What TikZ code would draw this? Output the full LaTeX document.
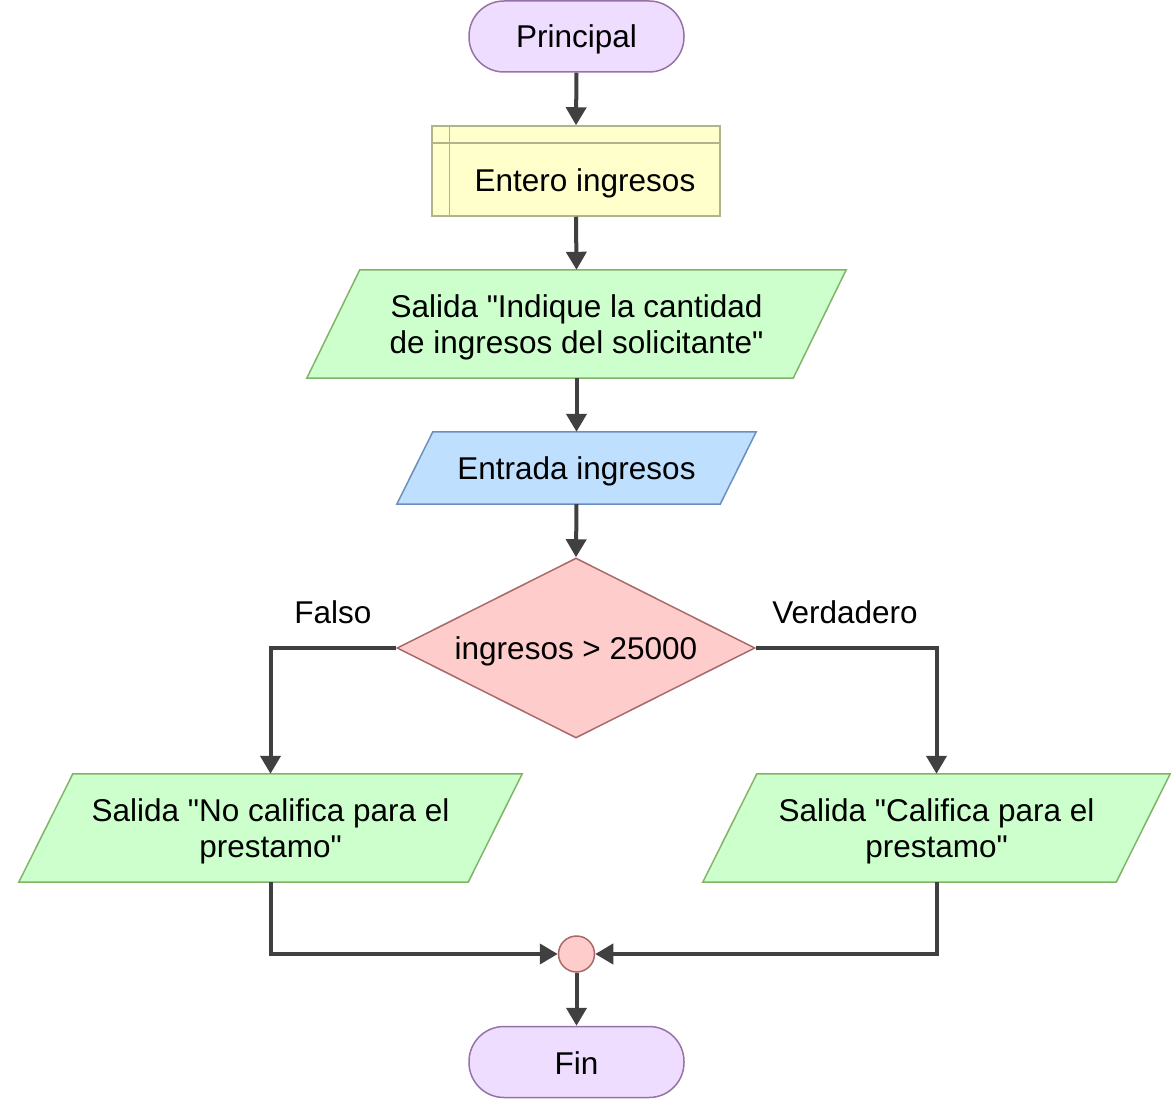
\documentclass[tikz,border=0pt]{standalone}
\usepackage{fontspec}
\setmainfont{Liberation Sans}[Ligatures=TeXOff]
\usetikzlibrary{arrows.meta,calc,shapes.geometric}
\definecolor{termfill}{HTML}{EEDDFF}
\definecolor{termdraw}{HTML}{9673A6}
\definecolor{declfill}{HTML}{FFFFCC}
\definecolor{decldraw}{HTML}{B3B38A}
\definecolor{outfill}{HTML}{CCFFCC}
\definecolor{outdraw}{HTML}{82B366}
\definecolor{infill}{HTML}{BFDFFF}
\definecolor{indraw}{HTML}{6C8EBF}
\definecolor{decfill}{HTML}{FFCCCC}
\definecolor{decdraw}{HTML}{A86A68}
\definecolor{arrowcol}{HTML}{404040}
\begin{document}
\begin{tikzpicture}[x=1pt,y=-1pt,
  every node/.style={font=\fontsize{31.5}{36}\selectfont, inner sep=0pt, align=center},
  terminal/.style={rounded corners=35pt, draw=termdraw, fill=termfill, line width=1.5pt, minimum width=215pt, minimum height=71pt},
  txtbox/.style={draw=none, fill=none},
  txt/.style={yshift=-3pt},
  outshape/.style={draw=outdraw, fill=outfill, line width=1.5pt},
  inshape/.style={draw=indraw, fill=infill, line width=1.5pt},
  conn/.style={draw=arrowcol, line width=4pt, -{Triangle[length=18pt,width=20pt]}},
  label/.style={font=\fontsize{31.5}{36}\selectfont}
]
\useasboundingbox (0,0) rectangle (1171,1099);

% Principal
\node[terminal] (ini) at (576.5,36.5) {};
\node[txt] (iniT) at (ini) {Principal};

% Entero ingresos (declaration box)
\node[draw=decldraw, fill=declfill, line width=1.5pt, minimum width=288pt, minimum height=90pt] (dec) at (576,171) {};
\draw[decldraw, line width=1.5pt] ($(dec.north west)+(18,0)$) -- ($(dec.south west)+(18,0)$);
\draw[decldraw, line width=1.5pt] ($(dec.north west)+(0,18)$) -- ($(dec.north east)+(0,18)$);
\node[txt] (decT) at (585,180) {Entero ingresos};

% Salida 1
\node[txtbox, minimum width=486pt, minimum height=108pt] (out1) at (576.5,324) {};
\path[outshape] ($(out1.north west)+(26.5,0)$) -- ($(out1.north east)+(26.5,0)$) -- ($(out1.south east)+(-26.5,0)$) -- ($(out1.south west)+(-26.5,0)$) -- cycle;
\node[txt] (out1T) at (out1) {Salida "Indique la cantidad\\ de ingresos del solicitante"};

% Entrada
\node[txtbox, minimum width=323pt, minimum height=72pt] (inp) at (576.5,468) {};
\path[inshape] ($(inp.north west)+(18,0)$) -- ($(inp.north east)+(18,0)$) -- ($(inp.south east)+(-18,0)$) -- ($(inp.south west)+(-18,0)$) -- cycle;
\node[txt] (inpT) at (inp) {Entrada ingresos};

% Decision
\node[diamond, draw=decdraw, fill=decfill, line width=1.5pt, minimum width=358pt, minimum height=180pt, aspect=2] (cond) at (576,648) {};
\node[txt] (condT) at (cond) {ingresos > 25000};

% Left output
\node[txtbox, minimum width=449pt, minimum height=108pt] (outL) at (270.5,828) {};
\path[outshape] ($(outL.north west)+(27,0)$) -- ($(outL.north east)+(27,0)$) -- ($(outL.south east)+(-27,0)$) -- ($(outL.south west)+(-27,0)$) -- cycle;
\node[txt] (outLT) at (outL) {Salida "No califica para el\\prestamo"};

% Right output
\node[txtbox, minimum width=413pt, minimum height=108pt] (outR) at (936.5,828) {};
\path[outshape] ($(outR.north west)+(27,0)$) -- ($(outR.north east)+(27,0)$) -- ($(outR.south east)+(-27,0)$) -- ($(outR.south west)+(-27,0)$) -- cycle;
\node[txt] (outRT) at (outR) {Salida "Califica para el\\prestamo"};

% Junction
\node[circle, draw=decdraw, fill=decfill, line width=1.5pt, minimum size=36pt] (join) at (576.5,954) {};

% Fin
\node[terminal] (fin) at (576.5,1062) {};
\node[yshift=-1pt] (finT) at (fin) {Fin};

% Labels
\node[label] (lf) at (333,612) {Falso};
\node[label] (lv) at (845,612) {Verdadero};

% Connectors
\draw[conn] (ini.south) -- (dec.north);
\draw[conn] (dec.south) -- (out1.north);
\draw[conn] (out1.south) -- (inp.north);
\draw[conn] (inp.south) -- (cond.north);
\draw[conn] (cond.west) -| (outL.north);
\draw[conn] (cond.east) -| (outR.north);
\draw[conn] (outL.south) |- (join.west);
\draw[conn] (outR.south) |- (join.east);
\draw[conn] (join.south) -- (fin.north);
\end{tikzpicture}
\end{document}
